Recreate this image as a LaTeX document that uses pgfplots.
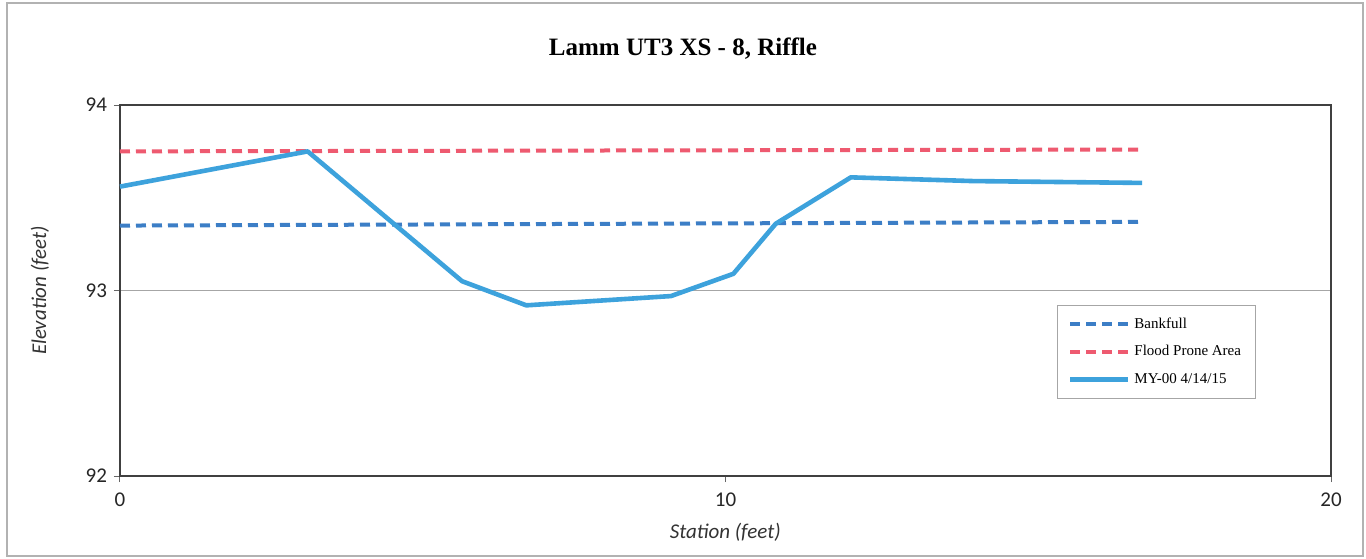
\documentclass[border=0pt]{standalone}
\usepackage{pgfplots}
\pgfplotsset{compat=1.18}
\usepackage{fontspec}
\setmainfont{Liberation Serif}
\newfontfamily\carlito{Carlito}
\definecolor{bankblue}{HTML}{3C7EC6}
\definecolor{floodred}{HTML}{EE5A70}
\definecolor{surveyblue}{HTML}{3DA2DC}
\begin{document}
\begin{tikzpicture}
\path[fill=white] (-60pt,-41pt) rectangle (623pt,238pt);
\draw[gray!60, line width=0.6pt] (-56.5pt,-40pt) rectangle (621.5pt,236.5pt);
\begin{axis}[
  at={(0pt,0pt)}, anchor=origin,
  scale only axis, width=605.5pt, height=185.5pt,
  xmin=0, xmax=20, ymin=92, ymax=94,
  xtick={0,10,20}, ytick={92,93,94},
  xtick pos=bottom, ytick pos=left,
  axis line style={black!75, line width=0.9pt},
  tick style={black!60, line width=0.5pt},
  tick align=outside, major tick length=3pt,
  ymajorgrids, grid style={gray!70, line width=0.6pt},
  ticklabel style={font=\carlito\fontsize{10.5}{12}\selectfont, text=black!85},
  /pgf/number format/assume math mode=true,
  xticklabel style={yshift=-2pt},
  xlabel={\carlito\itshape Station (feet)},
  ylabel={\carlito\itshape Elevation (feet)},
  label style={font=\fontsize{10.5}{12}\selectfont, text=black!80},
  xlabel style={at={(axis description cs:0.4998,0)}, anchor=center, yshift=-28pt},
  ylabel style={at={(axis description cs:0,0.5)}, anchor=center, xshift=0pt},
  every axis y label/.append style={at={(-40pt,92.75pt)}},
  title={\bfseries Lamm UT3 XS - 8, Riffle},
  title style={at={(281.5pt,207.5pt)}, anchor=center, font=\fontsize{12.5}{14}\selectfont},
  legend style={at={(rel axis cs:0.774,0.461)}, anchor=north west,
    draw=gray!70, line width=0.5pt, font=\fontsize{7.5}{9}\selectfont,
    row sep=3.2pt, inner xsep=5pt, inner ysep=4pt},
  legend cell align=left,
  legend image code/.code={\draw[#1] (0pt,0pt) -- (29pt,0pt);},
  clip=false,
]
\addplot[bankblue, line width=2pt, dash pattern=on 5pt off 3pt] coordinates {(0,93.35) (16.9,93.37)};
\addlegendentry{Bankfull}
\addplot[floodred, line width=2pt, dash pattern=on 5pt off 3pt] coordinates {(0,93.75) (16.9,93.76)};
\addlegendentry{Flood Prone Area}
\addplot[surveyblue, line width=2.3pt, line join=round] coordinates {
(0,93.56) (3.1,93.75) (5.65,93.05) (6.71,92.92) (9.10,92.97) (10.13,93.09) (10.83,93.36) (12.07,93.61) (14.08,93.59) (16.88,93.58)};
\addlegendentry{MY-00 4/14/15}
\end{axis}
\end{tikzpicture}
\end{document}
